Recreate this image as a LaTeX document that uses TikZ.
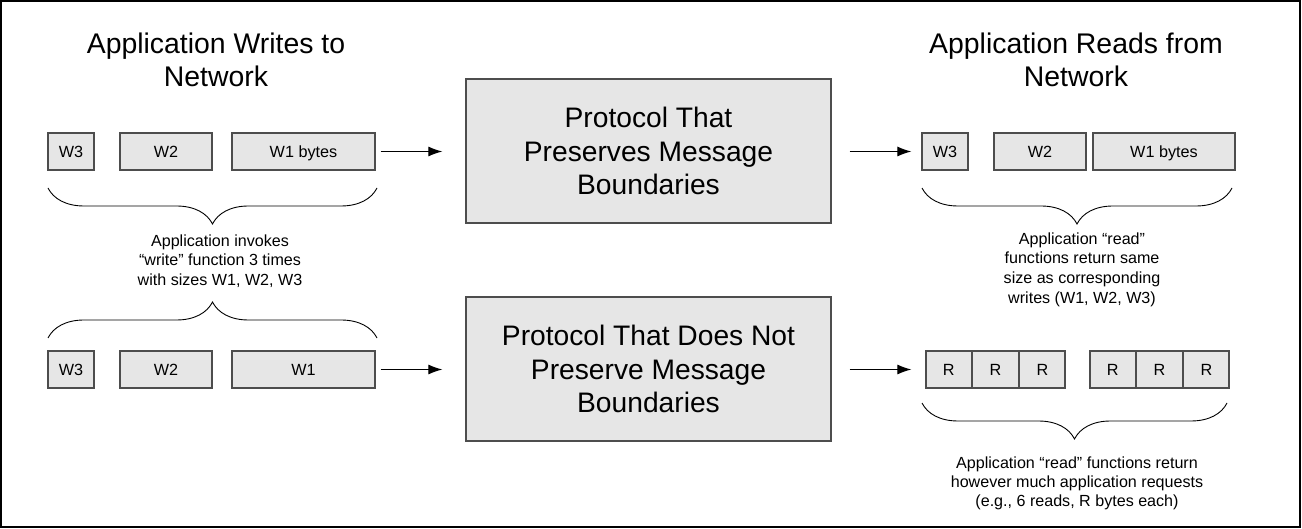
\documentclass[tikz,border=0pt]{standalone}
\usepackage{fontspec}
\setmainfont{Liberation Sans}
\usetikzlibrary{arrows.meta,decorations.pathreplacing,positioning,calc}

\definecolor{boxgray}{HTML}{E6E6E6}
\definecolor{linegray}{HTML}{4D4D4D}

\tikzset{
seg/.style={draw=linegray,fill=boxgray,line width=1.3pt,minimum height=37pt,inner sep=0pt,text height=11.6pt,text depth=0pt,font=\fontsize{16.2}{18}\selectfont},
proto/.style={draw=linegray,fill=boxgray,line width=1.3pt,minimum width=365pt,minimum height=144pt,align=center,font=\fontsize{28.2}{33.5}\selectfont},
headline/.style={align=center,font=\fontsize{28.4}{33}\selectfont},
note/.style={align=center,font=\fontsize{16.1}{19.3}\selectfont},
flow/.style={-{Latex[length=14pt,width=10pt]},line width=1pt},
brc/.style={decorate,decoration={brace,amplitude=36pt},line width=0.9pt}
}

\begin{document}
\begin{tikzpicture}[x=1pt,y=-1pt]
\useasboundingbox (0,0) rectangle (1302,529);
\draw[line width=1.5pt] (1,1) rectangle (1300,527);

% titles
\node[headline] (wtitle) at (216,59.5) {Application Writes to\\Network};
\node[headline] (rtitle) at (1076,59.5) {Application Reads from\\Network};

% protocols
\node[proto] (pa) at (648.5,151) {Protocol That\\Preserves Message\\Boundaries};
\node[proto] (pb) at (648.5,369) {Protocol That Does Not\\Preserve Message\\Boundaries};

% writes, upper row
\node[seg,minimum width=46pt] (w3a) at (71,151.5) {W3};
\node[seg,minimum width=92pt] (w2a) at (166,151.5) {W2};
\node[seg,minimum width=143pt] (w1a) at (303.5,151.5) {W1 bytes};
% writes, lower row
\node[seg,minimum width=46pt] (w3b) at (71,369.5) {W3};
\node[seg,minimum width=92pt] (w2b) at (166,369.5) {W2};
\node[seg,minimum width=143pt] (w1b) at (303.5,369.5) {W1};

% reads, upper row
\node[seg,minimum width=46pt] (r3a) at (945,151.5) {W3};
\node[seg,minimum width=92pt] (r2a) at (1040,151.5) {W2};
\node[seg,minimum width=142pt] (r1a) at (1164,151.5) {W1 bytes};

% reads, lower row
\node[seg,minimum width=45.5pt] (rr1) at (948.75,369.5) {R};
\foreach \i/\j in {2/1,3/2}
  \node[seg,minimum width=45.5pt,right=0pt of rr\j] (rr\i) {R};
\node[seg,minimum width=45.5pt] (rr4) at (1112.75,369.5) {R};
\foreach \i/\j in {5/4,6/5}
  \node[seg,minimum width=45.5pt,right=0pt of rr\j] (rr\i) {R};

\draw[flow,shorten <=5pt,shorten >=23pt] (w1a) -- (w1a -| pa.west);
\draw[flow,shorten <=5pt,shorten >=23pt] (w1b) -- (w1b -| pb.west);
\draw[flow,shorten <=18pt,shorten >=10pt] (r3a -| pa.east) -- (r3a);
\draw[flow,shorten <=18pt,shorten >=14pt] (rr1 -| pb.east) -- (rr1);

% braces
\draw[brc] (377,188) -- (48,188);
\draw[brc] (48,338) -- (377,338);
\draw[brc] (1232,188) -- (922,188);
\draw[brc] (1227,403) -- (922,403);

\node[note] (wnote) at (220,261) {Application invokes\\“write” function 3 times\\with sizes W1, W2, W3};
\node[note,font=\fontsize{16.1}{19.7}\selectfont] (rnote) at (1082,269.5) {Application “read”\\functions return same\\size as corresponding\\writes (W1, W2, W3)};
\node[note] (bnote) at (1077,483.5) {Application “read” functions return\\however much application requests\\(e.g., 6 reads, R bytes each)};
\end{tikzpicture}
\end{document}
